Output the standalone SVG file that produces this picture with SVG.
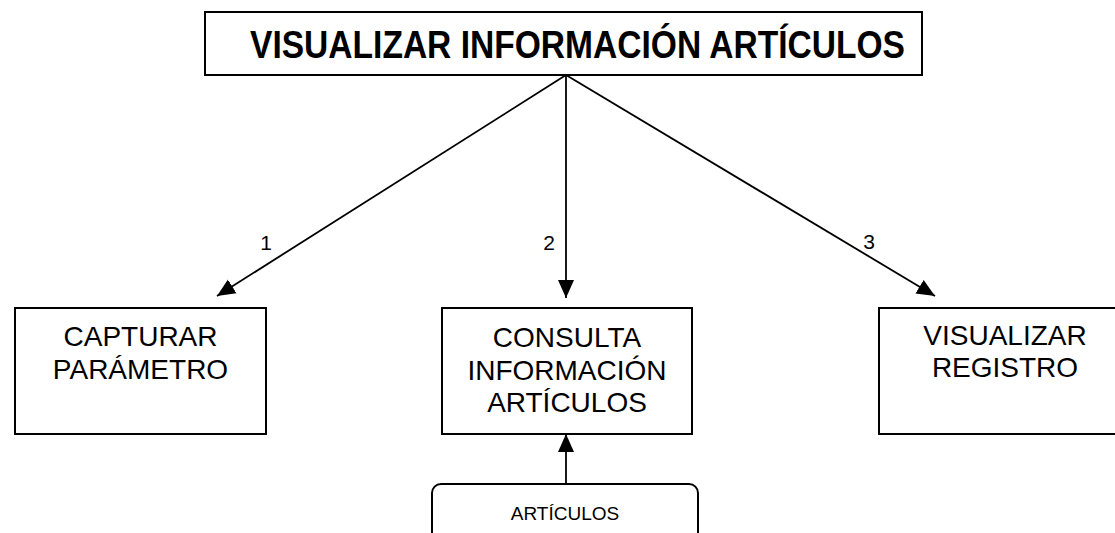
<svg xmlns="http://www.w3.org/2000/svg" width="1115" height="533" viewBox="0 0 1115 533">
<style>
.box{fill:#fff;stroke:#000;stroke-width:2}
.t{font-family:"Liberation Sans",Arial,sans-serif;font-size:28px;fill:#000;text-anchor:middle}
.lbl{font-family:"Liberation Sans",Arial,sans-serif;font-size:21px;fill:#000;text-anchor:middle}
.small{font-family:"Liberation Sans",Arial,sans-serif;font-size:19px;fill:#000;text-anchor:middle}
.title{font-family:"Liberation Sans Narrow","Arial Narrow","Liberation Sans",sans-serif;font-weight:bold;font-size:38px;fill:#000}
.conn{stroke:#000;stroke-width:1.8;fill:none;marker-end:url(#ah)}
</style>
<defs>
<marker id="ah" markerUnits="userSpaceOnUse" markerWidth="20" markerHeight="18" refX="18" refY="8" orient="auto" viewBox="0 0 20 16">
<path d="M0,0 L18,8 L0,16 Z" fill="#000"/>
</marker>
</defs>
<rect width="1115" height="533" fill="#fff"/>
<g id="connectors">
<line class="conn" x1="566" y1="75" x2="217" y2="296"/>
<line class="conn" x1="566" y1="75" x2="566" y2="298"/>
<line class="conn" x1="566" y1="75" x2="935" y2="296"/>
<line class="conn" x1="566" y1="484" x2="566" y2="434"/>
<text class="lbl" x="266" y="250">1</text>
<text class="lbl" x="549" y="250">2</text>
<text class="lbl" x="869" y="249">3</text>
</g>
<g id="node-title">
<rect class="box" x="205" y="12" width="717" height="63"/>
<text class="title" x="250" y="58" textLength="655" lengthAdjust="spacingAndGlyphs">VISUALIZAR INFORMACIÓN ARTÍCULOS</text>
</g>
<g id="node-capturar">
<rect class="box" x="15" y="308" width="251" height="126"/>
<text class="t" x="140.5" y="346">CAPTURAR</text>
<text class="t" x="140.5" y="379">PARÁMETRO</text>
</g>
<g id="node-consulta">
<rect class="box" x="442" y="308" width="250" height="126"/>
<text class="t" x="567" y="347">CONSULTA</text>
<text class="t" x="567" y="380">INFORMACIÓN</text>
<text class="t" x="567" y="412">ARTÍCULOS</text>
</g>
<g id="node-visualizar">
<rect class="box" x="879" y="308" width="260" height="126"/>
<text class="t" x="1005" y="345">VISUALIZAR</text>
<text class="t" x="1005" y="377">REGISTRO</text>
</g>
<g id="node-articulos">
<rect class="box" x="432" y="484" width="266" height="70" rx="9" ry="9"/>
<text class="small" x="565" y="520">ARTÍCULOS</text>
</g>
</svg>
